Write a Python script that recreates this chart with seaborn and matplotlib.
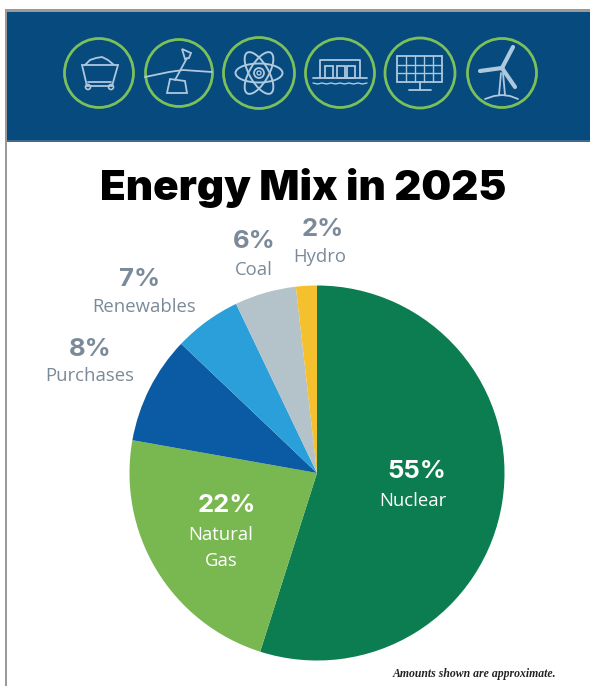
import numpy as np
import matplotlib
matplotlib.use('Agg')
import matplotlib.pyplot as plt
from matplotlib.patches import Ellipse, Rectangle, Polygon, Circle
import seaborn as sns

# 数据
categories = ['Nuclear', 'Natural\nGas', 'Purchases', 'Renewables', 'Coal', 'Hydro']
percent_labels = ['55%', '22%', '8%', '7%', '6%', '2%']
# wedge sizes, they differ a bit from the printed labels
wedge_shares = [54.9, 22.9, 9.3, 5.8, 5.3, 1.8]
wedge_colors = ['#0b7d50', '#79b751', '#0a5ba3', '#2b9fd9', '#b4c3c9', '#f4c02e']

sns.set_theme(style='white')
plt.rcParams['font.family'] = ['Open Sans', 'DejaVu Sans']

BANNER = '#064a7e'
RING = '#7cc05c'
ICON = '#aec8de'
LABEL_GRAY = '#7b8a99'

W, H = 590, 686
fig = plt.figure(figsize=(W / 100, H / 100), dpi=100, facecolor='white')

# pie
cx, cy, r = 317, 473, 187.5
ax = fig.add_axes([(cx - r) / W, 1 - (cy + r) / H, 2 * r / W, 2 * r / H])
ax.pie(wedge_shares, colors=sns.color_palette(wedge_colors), startangle=90,
       counterclock=False, radius=1, wedgeprops={'linewidth': 0})
ax.set_xlim(-1, 1)
ax.set_ylim(-1, 1)
ax.set_axis_off()

# overlay in pixel coordinates for banner and text
ov = fig.add_axes([0, 0, 1, 1], zorder=5)
ov.set_xlim(0, W)
ov.set_ylim(H, 0)
ov.set_axis_off()
ov.patch.set_alpha(0)

ov.add_patch(Rectangle((5, 9), W - 5, 3, color='#9a9a9a', lw=0))
ov.add_patch(Rectangle((5, 9), 2, H - 9, color='#9a9a9a', lw=0))
ov.add_patch(Rectangle((7, 12), W - 7, 129, color=BANNER, lw=0))
ov.add_patch(Rectangle((7, 140), W - 7, 2, color='#3f6a8e', lw=0))


def line(xs, ys, lw=1.3):
    ov.plot(xs, ys, color=ICON, lw=lw, solid_capstyle='round')


def box(x, y, w, h, lw=1.3):
    ov.add_patch(Rectangle((x, y), w, h, fill=False, ec=ICON, lw=lw))


def poly(pts, lw=1.3):
    ov.add_patch(Polygon(pts, fill=False, ec=ICON, lw=lw))


def coal_icon(x, y):
    poly([(x - 17, y - 8), (x + 19, y - 8), (x + 13, y + 13), (x - 12, y + 13)])
    line([x - 14, x - 9, x - 3, x + 3, x + 9, x + 15], [y - 8, y - 13, y - 15, y - 16, y - 13, y - 8])
    line([x - 11, x + 12], [y + 9, y + 9])
    for dx in (-11, 12):
        ov.add_patch(Circle((x + dx, y + 14), 2.5, fill=False, ec=ICON, lw=1.2))


def gas_icon(x, y):
    line([x - 34, x - 10, x + 4, x + 33], [y + 4, y - 1, y - 3, y - 1])
    line([x + 8, x - 4], [y - 15, y + 7])
    poly([(x + 3, y - 24), (x + 12, y - 20), (x + 10, y - 15), (x + 6, y - 14)])
    poly([(x - 9, y + 6), (x + 6, y + 8), (x + 8, y + 20), (x - 12, y + 20)])


def atom_icon(x, y):
    for ang in (0, 60, 120):
        ov.add_patch(Ellipse((x, y), 47, 19, angle=ang, fill=False, ec=ICON, lw=1.4))
    ov.add_patch(Circle((x, y), 5, fill=False, ec=ICON, lw=1.3))
    ov.add_patch(Circle((x, y), 2, fill=False, ec=ICON, lw=1.0))


def hydro_icon(x, y):
    line([x - 20, x - 20, x + 20, x + 20], [y + 5, y - 13, y - 13, y + 5])
    for dx in (-15, -3, 7):
        box(x + dx, y - 7, 8, 12)
    line([x - 27, x + 27], [y + 5, y + 5])
    xs = [x - 27 + i * 4.5 for i in range(13)]
    line(xs, [y + 10 + (i % 2) for i in range(13)], lw=1.0)


def solar_icon(x, y):
    box(x - 23, y - 17, 45, 26)
    for dx in (-14, -5, 4, 13):
        line([x + dx, x + dx], [y - 17, y + 9], lw=1.0)
    for dy in (-8, 0):
        line([x - 23, x + 22], [y + dy, y + dy], lw=1.0)
    line([x, x], [y + 9, y + 17])
    line([x - 11, x + 11], [y + 17, y + 17])


def wind_icon(x, y):
    line([x, x + 11], [y - 5, y - 26], lw=3.0)
    line([x, x - 22], [y - 5, y - 2], lw=3.0)
    line([x, x + 13], [y - 5, y + 14], lw=3.0)
    ov.add_patch(Circle((x, y - 5), 2.5, color=ICON, lw=0))
    line([x - 1, x - 3], [y, y + 22])
    line([x + 1, x + 3], [y, y + 22])
    line([x - 17, x - 8, x, x + 8, x + 16], [y + 26, y + 23, y + 22, y + 23, y + 26])


icon_funcs = [coal_icon, gas_icon, atom_icon, hydro_icon, solar_icon, wind_icon]
icon_x = [99, 179, 259, 340, 420, 502]
icon_r = [34.5, 33.5, 35.5, 34.5, 35, 34.5]
for fx, fr, func in zip(icon_x, icon_r, icon_funcs):
    ov.add_patch(Circle((fx, 73), fr, fill=False, ec=RING, lw=2.0))
    func(fx, 73)

ov.text(303.5, 200, 'Energy Mix in 2025', fontsize=30.3, fontweight='black',
        family=['Inter', 'DejaVu Sans'], color='black', ha='center', va='baseline')

# label positions, same order as categories
pct_xy = [(417, 472), (227, 506), (90, 350), (140, 280), (254, 242), (323, 230)]
name_xy = [(413, 501), (221, 548), (90, 376), (144, 307), (254, 270), (320, 257)]
label_colors = ['white', 'white', LABEL_GRAY, LABEL_GRAY, LABEL_GRAY, LABEL_GRAY]
for name, pct, pxy, nxy, col in zip(categories, percent_labels, pct_xy, name_xy, label_colors):
    ov.text(pxy[0], pxy[1], pct, fontsize=18.5, fontweight='bold', color=col, ha='center', va='center',
            family=['Inter', 'DejaVu Sans'])
    ov.text(nxy[0], nxy[1], name, fontsize=13.3, color=col, ha='center', va='center', linespacing=1.5)

ov.text(474, 674, 'Amounts shown are approximate.', fontsize=8.5, fontweight='bold', style='italic',
        family=['Liberation Serif'], color='#222222', ha='center', va='center')

fig.savefig('out.png', dpi=100)
